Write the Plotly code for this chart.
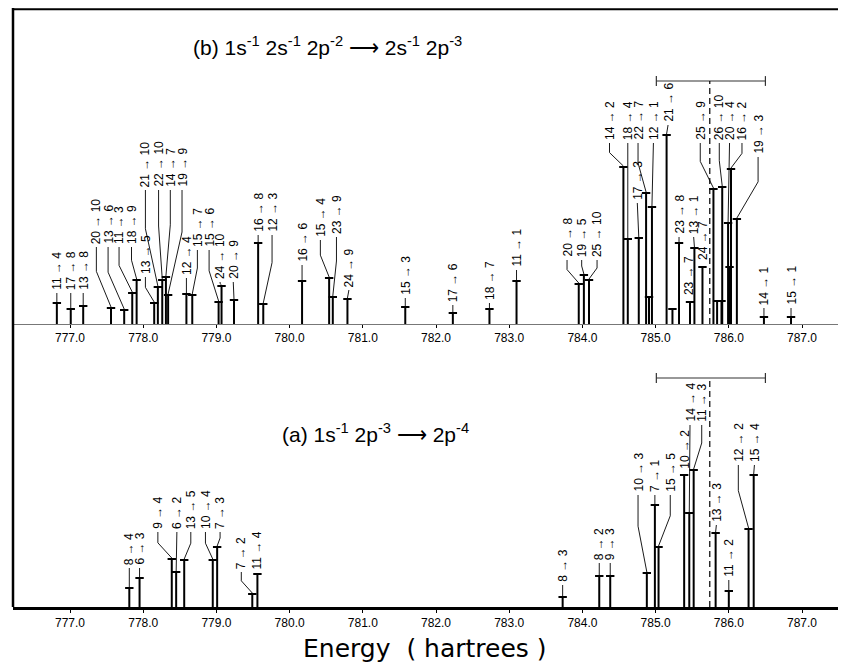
import plotly.graph_objects as go

# ---------------- data: panel (b) 1s-1 2s-1 2p-2 -> 2s-1 2p-3 ----------------
energy_b = [776.82, 777.01, 777.18, 777.56, 777.74, 777.85, 777.91, 778.15, 778.20, 778.26,
            778.31, 778.34, 778.59, 778.67, 779.03, 779.07, 779.24, 779.57, 779.64, 780.17,
            780.54, 780.59, 780.79, 781.58, 782.23, 782.73, 783.10, 783.95, 784.02, 784.09,
            784.56, 784.62, 784.77, 784.87, 784.95, 785.15, 785.32, 785.47, 785.53, 785.64,
            785.79, 785.91, 785.99, 786.03, 786.11, 786.48, 786.85]
intens_b = [21, 15, 18, 16, 14, 31, 44, 21, 37, 44,
            47, 29, 30, 29, 22, 38, 24, 81, 20, 43,
            46, 27, 25, 17, 11, 15, 43, 40, 49, 44,
            157, 85, 86, 131, 117, 189, 81, 22, 76, 57,
            135, 137, 101, 155, 105, 7, 7]
labels_b = ["11 → 4", "17 → 8", "13 → 8", "20 → 10", "13 → 6", "11 → 3", "18 → 9", "13 → 5", "21 → 10", "22 → 10",
            "14 → 7", "19 → 9", "12 → 4", "15 → 7", "15 → 6", "24 → 10", "20 → 9", "16 → 8", "12 → 3", "16 → 6",
            "15 → 4", "23 → 9", "24 → 9", "15 → 3", "17 → 6", "18 → 7", "11 → 1", "20 → 8", "19 → 5", "25 → 10",
            "14 → 2", "18 → 4", "17 → 3", "22 → 7", "12 → 1", "21 → 6", "23 → 8", "23 → 7", "13 → 1", "24 → 7",
            "25 → 9", "26 → 10", "20 → 4", "16 → 2", "19 → 3", "14 → 1", "15 → 1"]
# unlabelled weak lines in panel (b)
extra_energy_b = [784.91, 785.23, 785.84, 785.90, 786.01]
extra_intens_b = [27, 15, 23, 23, 57]

# label placement (energy of label, baseline height of label) for panel (b)
label_x_b = [776.82, 777.01, 777.18, 777.36, 777.52, 777.67, 777.84, 778.03, 778.03, 778.21,
             778.37, 778.53, 778.59, 778.74, 778.90, 779.05, 779.23, 779.57, 779.76, 780.17,
             780.42, 780.64, 780.81, 781.58, 782.23, 782.73, 783.10, 783.79, 783.99, 784.20,
             784.37, 784.62, 784.75, 784.76, 784.97, 785.17, 785.32, 785.45, 785.52, 785.64,
             785.61, 785.87, 786.01, 786.18, 786.40, 786.48, 786.85]
label_y_b = [31, 31, 31, 77, 77, 77, 77, 47, 134, 134,
             134, 134, 46, 74, 74, 42, 42, 89, 89, 59,
             84, 87, 34, 26, 19, 21, 54, 64, 64, 64,
             181, 181, 121, 181, 181, 199, 87, 26, 87, 61,
             181, 181, 181, 181, 167, 16, 16]

# ---------------- data: panel (a) 1s-1 2p-3 -> 2p-4 ----------------
energy_a = [777.81, 777.95, 778.39, 778.45, 778.56, 778.95, 779.01, 779.49, 779.56,
            783.73, 784.23, 784.38, 784.88, 784.99, 785.04, 785.39, 785.46, 785.52,
            785.82, 786.00, 786.27, 786.34]
intens_a = [19, 29, 48, 35, 47, 47, 60, 13, 33,
            10, 31, 31, 34, 102, 60, 132, 94, 137,
            74, 16, 78, 132]
labels_a = ["8 → 4", "6 → 3", "9 → 4", "6 → 2", "13 → 5", "10 → 4", "7 → 3", "7 → 2", "11 → 4",
            "8 → 3", "8 → 2", "9 → 3", "10 → 3", "7 → 1", "15 → 5", "10 → 2", "14 → 4", "11 → 3",
            "13 → 3", "11 → 2", "12 → 2", "15 → 4"]
label_x_a = [777.81, 777.95, 778.20, 778.46, 778.65, 778.85, 779.05, 779.34, 779.56,
             783.73, 784.23, 784.38, 784.76, 784.99, 785.20, 785.39, 785.47, 785.63,
             785.83, 786.00, 786.13, 786.35]
label_y_a = [39, 39, 75, 75, 75, 75, 75, 35, 35,
             22, 44, 44, 112, 112, 112, 135, 182, 182,
             82, 27, 142, 142]

# mean energy and spread markers (same in both panels)
mean_energy = 785.74
spread_lo = 785.01
spread_hi = 786.50
spread_level_b = 243
spread_level_a = 229

tick_vals = [777.0, 778.0, 779.0, 780.0, 781.0, 782.0, 783.0, 784.0, 785.0, 786.0, 787.0]
tick_text = ["777.0", "778.0", "779.0", "780.0", "781.0", "782.0", "783.0", "784.0", "785.0", "786.0", "787.0"]

FONT = "Liberation Sans"
fig = go.Figure()


def add_sticks(xs, hs, xref, yref):
    sx, sy = [], []
    for e, h in zip(xs, hs):
        sx += [e, e, None]
        sy += [0, h, None]
    fig.add_trace(go.Scatter(x=sx, y=sy, mode="lines", xaxis=xref, yaxis=yref,
                             line=dict(color="black", width=2), hoverinfo="skip", showlegend=False))
    fig.add_trace(go.Scatter(x=xs, y=hs, mode="markers", xaxis=xref, yaxis=yref,
                             marker=dict(symbol="line-ew", size=6, line=dict(color="black", width=2)),
                             hoverinfo="skip", showlegend=False))


def add_labels(xs, hs, lab, lx, ly, xref, yref):
    lxs, lys = [], []
    for e, h, t, x0, y0 in zip(xs, hs, lab, lx, ly):
        fig.add_annotation(x=x0, y=y0 + 1, xref=xref, yref=yref, text=t, textangle=-90,
                           showarrow=False, xanchor="center", yanchor="bottom",
                           font=dict(family=FONT, size=12, color="black"))
        gap = y0 - h
        if abs(x0 - e) > 0.02:
            bend = y0 - 0.4 * gap
            lxs += [x0, x0, e, None]
            lys += [y0, bend, h + 1, None]
        elif gap > 5:
            lxs += [x0, e, None]
            lys += [y0, h + 1, None]
    fig.add_trace(go.Scatter(x=lxs, y=lys, mode="lines", xaxis=xref, yaxis=yref,
                             line=dict(color="black", width=0.9), hoverinfo="skip", showlegend=False))


def add_spread(xref, yref, level):
    fig.add_trace(go.Scatter(x=[spread_lo, spread_hi], y=[level, level], mode="lines+markers",
                             xaxis=xref, yaxis=yref, line=dict(color="#333", width=1.2),
                             marker=dict(symbol="line-ns", size=7, line=dict(color="#333", width=1.2)),
                             hoverinfo="skip", showlegend=False))
    fig.add_trace(go.Scatter(x=[mean_energy, mean_energy], y=[0, level], mode="lines",
                             xaxis=xref, yaxis=yref, line=dict(color="black", width=1.2, dash="6px,4px"),
                             hoverinfo="skip", showlegend=False))


# panel (b) -> x2 / y2
add_sticks(energy_b + extra_energy_b, intens_b + extra_intens_b, "x2", "y2")
add_labels(energy_b, intens_b, labels_b, label_x_b, label_y_b, "x2", "y2")
add_spread("x2", "y2", spread_level_b)

# panel (a) -> x / y
add_sticks(energy_a, intens_a, "x", "y")
add_labels(energy_a, intens_a, labels_a, label_x_a, label_y_a, "x", "y")
add_spread("x", "y", spread_level_a)

xr = [776.221, 787.601]
common_x = dict(range=xr, tickmode="array", tickvals=tick_vals, ticktext=tick_text,
                ticks="outside", ticklen=3, tickcolor="black", showgrid=False, zeroline=False,
                tickfont=dict(family=FONT, size=12, color="black"))

PH = 599.0  # plot height in px
fig.update_layout(
    width=838, height=658,
    margin=dict(l=5, r=0, t=0, b=59),
    paper_bgcolor="white", plot_bgcolor="white",
    xaxis=dict(**common_x, anchor="y", showline=True, linecolor="black", linewidth=2.5),
    xaxis2=dict(**common_x, anchor="y2", matches="x", showline=True, linecolor="#777", linewidth=1),
    yaxis=dict(domain=[0, 0.45], range=[0, 0.45 * PH], visible=False),
    yaxis2=dict(domain=[283 / PH, 1.0], range=[0, PH - 283], visible=False),
    showlegend=False,
)

# frame: left and top
fig.add_shape(type="line", xref="paper", yref="paper", x0=0, x1=0, y0=0, y1=1,
              line=dict(color="black", width=2.5))
fig.add_shape(type="line", xref="paper", yref="paper", x0=0, x1=1, y0=0.998, y1=0.998,
              line=dict(color="black", width=2))

# panel titles
fig.add_annotation(xref="paper", yref="paper", x=(327 - 13) / 833, y=(607 - 46) / PH,
                   showarrow=False, xanchor="center", yanchor="middle",
                   text="(b) 1s<sup>-1</sup> 2s<sup>-1</sup> 2p<sup>-2</sup> ⟶ 2s<sup>-1</sup> 2p<sup>-3</sup>",
                   font=dict(family=FONT, size=21, color="black"))
fig.add_annotation(xref="paper", yref="paper", x=(375 - 13) / 833, y=(607 - 433) / PH,
                   showarrow=False, xanchor="center", yanchor="middle",
                   text="(a) 1s<sup>-1</sup> 2p<sup>-3</sup> ⟶ 2p<sup>-4</sup>",
                   font=dict(family=FONT, size=21, color="black"))
# axis title
fig.add_annotation(xref="paper", yref="paper", x=(425 - 13) / 833, y=(607 - 648) / PH,
                   showarrow=False, xanchor="center", yanchor="middle",
                   text="Energy  ( hartrees )", font=dict(family="DejaVu Sans", size=25, color="black"))

fig.write_html("out.html")
